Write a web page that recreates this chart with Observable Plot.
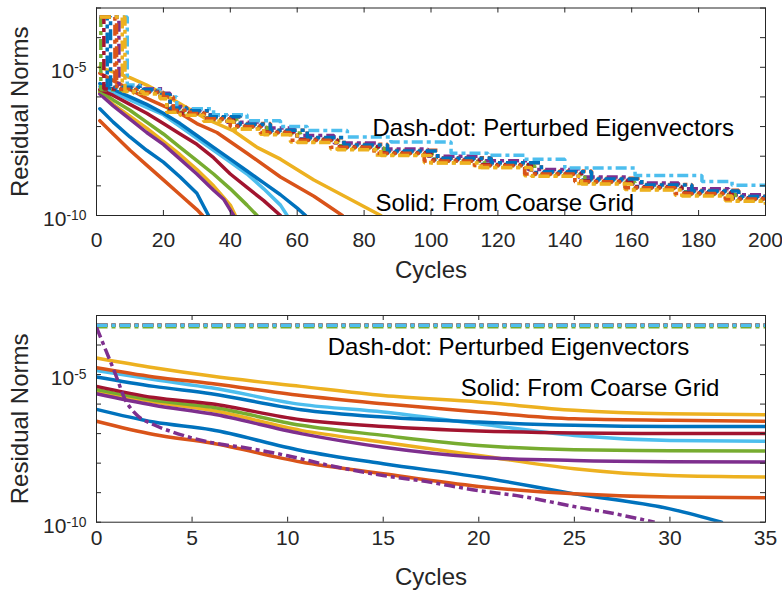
<!DOCTYPE html>
<html><head><meta charset="utf-8">
<script src="https://cdn.jsdelivr.net/npm/d3@7"></script>
<script src="https://cdn.jsdelivr.net/npm/@observablehq/plot@0.6"></script>
<style>
html,body{margin:0;padding:0;background:#fff;}
#chart svg{display:block;}
</style></head><body><div id="chart"></div>
<script>
// ---- tick values & labels ----
const xTicksTop = [0, 20, 40, 60, 80, 100, 120, 140, 160, 180, 200];
const xTicksBottom = [0, 5, 10, 15, 20, 25, 30, 35];
const yTickDecades = [1e-10, 1e-9, 1e-8, 1e-7, 1e-6, 1e-5, 1e-4, 1e-3];
const yLabelTicks = [1e-10, 1e-5];
const axisTitles = ["Residual Norms", "Cycles"];
const noteDash = "Dash-dot: Perturbed Eigenvectors";
const noteSolid = "Solid: From Coarse Grid";

// MATLAB default colour order (styles)
const COL = {blue:"#0072BD", orange:"#D95319", yellow:"#EDB120", purple:"#7E2F8E", green:"#77AC30", lblue:"#4DBEEE", red:"#A2142F"};
const ORDER = ["blue","orange","yellow","purple","green","lblue","red","blue","orange","yellow"];

// ---- TOP panel data: [cycle, log10(residual norm)] ----
const topSolid1 = [[1,-6.4],[5,-6.85],[10,-7.35],[15,-7.8],[20,-8.2],[25,-8.7],[30,-9.25],[33.5,-10]];
const topSolid2 = [[1,-6.8],[5,-7.25],[10,-7.8],[15,-8.3],[20,-8.8],[25,-9.3],[30,-9.8],[31.7,-10]];
const topSolid3 = [[1,-5.85],[5,-6.25],[10,-6.65],[15,-7.05],[20,-7.5],[25,-7.95],[30,-8.45],[35,-9.0],[40,-9.65],[41.5,-10]];
const topSolid4 = [[1,-5.9],[5,-6.3],[10,-6.75],[15,-7.2],[20,-7.6],[25,-8.1],[30,-8.6],[35,-9.15],[38,-9.45],[41,-10]];
const topSolid5 = [[1,-5.8],[5,-6.1],[10,-6.45],[15,-6.85],[20,-7.25],[25,-7.7],[30,-8.15],[35,-8.6],[40,-9.1],[45,-9.65],[48,-10]];
const topSolid6 = [[1,-5.65],[5,-5.85],[10,-6.1],[15,-6.35],[20,-6.6],[25,-7.0],[30,-7.4],[35,-7.8],[40,-8.2],[45,-8.6],[50,-9.1],[55,-9.65],[57,-10]];
const topSolid7 = [[1,-5.75],[5,-5.95],[10,-6.25],[15,-6.55],[20,-6.9],[25,-7.25],[30,-7.6],[35,-8.05],[40,-8.6],[45,-9.05],[50,-9.5],[55,-10]];
const topSolid8 = [[1,-5.55],[5,-5.75],[10,-6.0],[15,-6.25],[20,-6.55],[25,-6.9],[30,-7.3],[35,-7.7],[40,-8.1],[45,-8.5],[50,-8.9],[55,-9.3],[60,-9.75],[62.5,-10]];
const topSolid9 = [[1,-5.2],[5,-5.45],[10,-5.75],[15,-6.05],[20,-6.3],[25,-6.55],[30,-6.9],[36,-7.2],[45,-7.9],[55,-8.7],[65,-9.35],[73.5,-10]];
const topSolid10 = [[1,-5.0],[6,-5.2],[10,-5.35],[15,-5.6],[20,-5.9],[26,-6.3],[33,-6.75],[41,-7.15],[48,-7.7],[55,-8.1],[65,-8.8],[75,-9.4],[85,-10]];

const topDash1 = [[1,-3.3],[3.2,-5.7],[12,-5.8],[19,-5.95],[21,-6.4],[25,-6.52],[32,-6.7],[41,-6.95],[50,-7.15],[60,-7.42],[72,-7.66],[85,-7.86],[100,-8.1],[115,-8.27],[130,-8.55],[145,-8.8],[160,-9.02],[175,-9.2],[190,-9.4],[200,-9.52]];
const topDash2 = [[1,-3.3],[5.5,-5.65],[13,-5.75],[18,-5.9],[22,-6.35],[27,-6.48],[34,-6.68],[43,-6.9],[52,-7.12],[63,-7.38],[74,-7.6],[87,-7.8],[102,-8.05],[118,-8.22],[133,-8.5],[148,-8.74],[163,-8.95],[178,-9.15],[192,-9.35],[200,-9.45]];
const topDash3 = [[1,-3.3],[7.7,-5.8],[11,-5.88],[20,-6.05],[23,-6.52],[28,-6.62],[33,-6.82],[40,-7.08],[49,-7.26],[58,-7.52],[70,-7.76],[83,-7.96],[98,-8.22],[113,-8.38],[128,-8.66],[143,-8.92],[158,-9.12],[173,-9.32],[188,-9.5],[200,-9.62]];
const topDash4 = [[1,-3.3],[6.7,-5.62],[14,-5.72],[20,-5.88],[22,-6.32],[26,-6.42],[31,-6.6],[39,-6.85],[48,-7.05],[59,-7.3],[71,-7.55],[84,-7.76],[99,-8.0],[114,-8.15],[129,-8.45],[144,-8.7],[159,-8.9],[174,-9.1],[189,-9.3],[200,-9.4]];
const topDash5 = [[1,-3.3],[1.3,-5.76],[12,-5.85],[19,-6.02],[21,-6.47],[26,-6.57],[33,-6.77],[42,-7.02],[51,-7.22],[61,-7.47],[73,-7.72],[86,-7.92],[101,-8.17],[116,-8.32],[131,-8.62],[146,-8.88],[161,-9.08],[176,-9.28],[191,-9.46],[200,-9.58]];
const topDash6 = [[1,-3.3],[9.2,-5.6],[13,-5.75],[20,-6.0],[24,-6.4],[35,-6.6],[45,-6.8],[55,-7.0],[63,-7.13],[75,-7.35],[88,-7.52],[106,-7.9],[117,-7.97],[128,-8.1],[140,-8.4],[161,-8.65],[181,-8.85],[190,-8.98],[200,-9.0]];
const topDash7 = [[1,-3.3],[2.2,-5.73],[11,-5.82],[19,-5.98],[21,-6.43],[25,-6.54],[32,-6.74],[41,-6.98],[50,-7.18],[60,-7.44],[72,-7.68],[85,-7.88],[100,-8.13],[115,-8.29],[130,-8.58],[145,-8.84],[160,-9.04],[175,-9.24],[190,-9.42],[200,-9.54]];
const topDash8 = [[1,-3.3],[4.2,-5.67],[13,-5.76],[18,-5.92],[22,-6.37],[27,-6.47],[34,-6.67],[43,-6.92],[52,-7.12],[63,-7.37],[74,-7.62],[87,-7.82],[102,-8.07],[118,-8.22],[133,-8.52],[148,-8.77],[163,-8.97],[178,-9.17],[192,-9.36],[200,-9.47]];
const topDash9 = [[1,-3.3],[6.0,-5.74],[12,-5.84],[20,-6.0],[23,-6.45],[28,-6.56],[33,-6.74],[40,-7.0],[49,-7.2],[58,-7.46],[70,-7.7],[83,-7.9],[98,-8.16],[113,-8.31],[128,-8.6],[143,-8.86],[158,-9.06],[173,-9.26],[188,-9.44],[200,-9.56]];
const topDash10 = [[1,-3.3],[8.5,-5.82],[14,-5.9],[19,-6.06],[21,-6.52],[25,-6.62],[32,-6.82],[41,-7.08],[50,-7.28],[60,-7.54],[72,-7.78],[85,-7.98],[100,-8.23],[115,-8.38],[130,-8.68],[145,-8.94],[160,-9.14],[175,-9.34],[190,-9.52],[200,-9.64]];

// ---- BOTTOM panel data ----
const botSolid1 = [[0,-6.18],[3,-6.61],[6,-6.87],[10.7,-7.57],[15,-8.02],[20,-8.47],[25,-9.04],[30,-9.55],[32.7,-10]];
const botSolid2 = [[0,-6.58],[3,-7.03],[6,-7.32],[10.7,-7.96],[15,-8.36],[20,-8.79],[25,-9.04],[30,-9.15],[35,-9.17]];
const botSolid3 = [[0,-5.57],[3,-5.93],[6,-6.21],[10.7,-6.89],[15,-7.29],[20,-7.74],[25,-8.19],[30,-8.42],[35,-8.47]];
const botSolid4 = [[0,-5.65],[3,-6.04],[6,-6.33],[10.7,-7.0],[15,-7.46],[20,-7.8],[25,-7.91],[30,-7.95],[35,-7.96]];
const botSolid5 = [[0,-5.51],[3,-5.87],[6,-6.1],[10.7,-6.72],[15,-7.06],[20,-7.4],[25,-7.55],[30,-7.58],[35,-7.59]];
const botSolid6 = [[0,-4.86],[3,-5.17],[6,-5.45],[10.7,-6.01],[15,-6.27],[20,-6.67],[25,-7.06],[30,-7.23],[35,-7.26]];
const botSolid7 = [[0,-5.4],[3,-5.78],[6,-5.99],[10.7,-6.53],[15,-6.76],[20,-6.91],[25,-6.98],[30,-7.0],[35,-7.0]];
const botSolid8 = [[0,-5.08],[3,-5.4],[6,-5.65],[10.7,-6.19],[15,-6.44],[20,-6.61],[25,-6.72],[30,-6.76],[35,-6.76]];
const botSolid9 = [[0,-4.77],[3,-5.08],[6,-5.3],[10.7,-5.71],[15,-5.99],[20,-6.27],[25,-6.5],[30,-6.55],[35,-6.58]];
const botSolid10 = [[0,-4.44],[3,-4.77],[6,-5.05],[10.7,-5.4],[15,-5.71],[20,-5.93],[25,-6.21],[30,-6.33],[35,-6.36]];

const botDashFlat = [[0,-3.33],[35,-3.33]];
const botDashGreen = [[0,-3.38],[35,-3.38]];
const botDashLblue = [[0,-3.33],[35,-3.33]];
const botDashPurple = [[0,-3.4],[0.5,-4.2],[1,-5.0],[1.5,-5.85],[2,-6.3],[3,-6.7],[4,-6.95],[6,-7.3],[8,-7.5],[10,-7.75],[12,-8.05],[15,-8.42],[17,-8.6],[20,-8.93],[22,-9.1],[25,-9.47],[27,-9.7],[29.2,-10]];

// ---- drawing ----
const W = 782, ML = 96, MR = 17;
const AX = "#262626";
const FONT = "'Liberation Sans', Arial, Helvetica, sans-serif";
const DASH = "11,4,4,4";

function panel({h, mt, mb, xDomain, xTicks, xPad, solids, solidCurve, dashes, dashCurve, notes}) {
  const innerH = h - mt - mb, innerW = W - ML - MR;
  const marks = [];
  solids.forEach((pts, i) => marks.push(Plot.line(pts, {
    x: d => d[0], y: d => 10 ** d[1], stroke: COL[ORDER[i]], strokeWidth: 3.5,
    strokeLinejoin: "round", curve: solidCurve, clip: true
  })));
  dashes.forEach(({pts, color}) => marks.push(Plot.line(pts, {
    x: d => d[0], y: d => 10 ** d[1], stroke: COL[color], strokeWidth: 3.5,
    strokeDasharray: DASH, strokeLinecap: "butt", strokeLinejoin: "miter",
    curve: dashCurve, clip: true
  })));
  notes.forEach(n => marks.push(Plot.text([n.text], {
    x: n.x, y: n.y, text: d => d, textAnchor: "start", lineAnchor: "middle",
    fontSize: 24, fill: "black"
  })));
  marks.push(
    Plot.frame({stroke: AX, strokeWidth: 1}),
    Plot.tickX(xTicks, {x: d => d, insetTop: innerH - 5, stroke: AX}),
    Plot.tickX(xTicks, {x: d => d, insetBottom: innerH - 5, stroke: AX}),
    Plot.tickY(yTickDecades, {y: d => d, insetRight: innerW - 5, stroke: AX}),
    Plot.tickY(yTickDecades, {y: d => d, insetLeft: innerW - 5, stroke: AX}),
    Plot.axisX({ticks: xTicks, tickSize: 0, tickPadding: xPad, label: null, tickFormat: d => String(d)}),
    Plot.axisY({ticks: yLabelTicks, tickSize: 0, tickPadding: 10, dy: 4, label: null,
      tickFormat: d => "10^" + Math.round(Math.log10(d))}),
    Plot.text([axisTitles[1]], {frameAnchor: "bottom", dy: 55, text: d => d, fontSize: 24, lineAnchor: "middle", fill: AX}),
    Plot.text([axisTitles[0]], {frameAnchor: "left", dx: -76, rotate: -90, text: d => d, fontSize: 24, textAnchor: "middle", lineAnchor: "middle", fill: AX})
  );
  const svg = Plot.plot({
    width: W, height: h, marginLeft: ML, marginRight: MR, marginTop: mt, marginBottom: mb,
    x: {domain: xDomain},
    y: {type: "log", domain: [1e-10, 1e-3]},
    style: {fontFamily: FONT, fontSize: "21px", color: AX, background: "white", overflow: "visible"},
    marks
  });
  const ns = "http://www.w3.org/2000/svg";
  svg.querySelectorAll('g[aria-label="y-axis tick label"] text').forEach(t => {
    const m = t.textContent.match(/^10\^(.+)$/);
    if (m) {
      t.textContent = "10";
      const ts = document.createElementNS(ns, "tspan");
      ts.setAttribute("dy", "-0.45em");
      ts.setAttribute("font-size", "0.66em");
      ts.textContent = m[1];
      t.appendChild(ts);
    }
  });
  return svg;
}

const topDashes = [topDash1, topDash2, topDash3, topDash4, topDash5, topDash6, topDash7, topDash8, topDash9, topDash10]
  .map((pts, i) => ({pts, color: ORDER[i]}));
const botDashes = [
  {pts: botDashFlat, color: "blue"}, {pts: botDashFlat, color: "orange"}, {pts: botDashFlat, color: "yellow"},
  {pts: botDashFlat, color: "red"}, {pts: botDashGreen, color: "green"}, {pts: botDashLblue, color: "lblue"},
  {pts: botDashPurple, color: "purple"}
];

const chart = document.getElementById("chart");
chart.appendChild(panel({
  h: 296, mt: 7.5, mb: 81, xDomain: [0, 200], xTicks: xTicksTop, xPad: 17,
  solids: [topSolid1, topSolid2, topSolid3, topSolid4, topSolid5, topSolid6, topSolid7, topSolid8, topSolid9, topSolid10],
  solidCurve: "linear",
  dashes: topDashes, dashCurve: "step-after",
  notes: [{text: noteDash, x: 82.5, y: 8.7e-8}, {text: noteSolid, x: 83.4, y: 2.6e-10}]
}));
chart.appendChild(panel({
  h: 296, mt: 19, mb: 70.3, xDomain: [0, 35], xTicks: xTicksBottom, xPad: 8,
  solids: [botSolid1, botSolid2, botSolid3, botSolid4, botSolid5, botSolid6, botSolid7, botSolid8, botSolid9, botSolid10],
  solidCurve: "monotone-x",
  dashes: botDashes, dashCurve: "monotone-x",
  notes: [{text: noteDash, x: 12.1, y: 8.5e-5}, {text: noteSolid, x: 19.05, y: 3.3e-6}]
}));
</script></body></html>
